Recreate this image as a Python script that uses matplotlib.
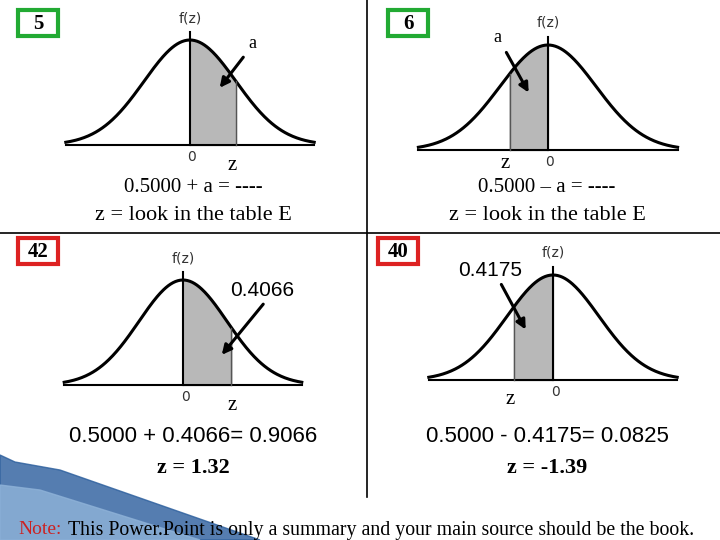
import numpy as np
import matplotlib
matplotlib.use("Agg")
import matplotlib.pyplot as plt
from matplotlib.patches import Rectangle, Polygon

# panel data: (center x, base y, height, sigma px, shade z from, shade z to)
panels = [
    dict(cx=190, base=145, h=105, s=46, z0=0.0, z1=1.0),
    dict(cx=548, base=150, h=105, s=48, z0=-0.8, z1=0.0),
    dict(cx=183, base=385, h=105, s=44, z0=0.0, z1=1.1),
    dict(cx=553, base=380, h=105, s=46, z0=-0.85, z1=0.0),
]
box_labels = ["5", "6", "42", "40"]
box_colors = ["#22aa33", "#22aa33", "#dd2222", "#dd2222"]
box_pos = [(18, 10), (388, 10), (18, 238), (378, 238)]
line1 = ["0.5000 + a = ----", "0.5000 – a = ----", "0.5000 + 0.4066= 0.9066", "0.5000 - 0.4175= 0.0825"]
line2 = ["z = look in the table E", "z = look in the table E", "z = 1.32", "z = -1.39"]
arrow_lbl = ["a", "a", "0.4066", "0.4175"]
arrow_lbl_pos = [(252, 43), (497, 38), (262, 290), (490, 270)]
arrows = [((245, 55), (218, 90)), ((505, 50), (530, 95)), ((265, 302), (220, 357)), ((500, 282), (527, 332))]
zlbl = [(232, 165), (505, 163), (232, 405), (510, 400)]

fig = plt.figure(figsize=(7.2, 5.4), dpi=100)
ax = fig.add_axes([0, 0, 1, 1])
ax.set_xlim(0, 720); ax.set_ylim(540, 0); ax.axis("off")

zz = np.linspace(-2.7, 2.7, 300)
for i, p in enumerate(panels):
    cx, base, h, s = p["cx"], p["base"], p["h"], p["s"]
    x = cx + zz * s; y = base - h * np.exp(-zz**2 / 2)
    zs = np.linspace(p["z0"], p["z1"], 100)
    xs = cx + zs * s; ys = base - h * np.exp(-zs**2 / 2)
    ax.fill_between(xs, ys, base, color="#b8b8b8", zorder=1)
    ax.plot(x, y, color="black", lw=2.2, zorder=2)
    ax.plot([x[0], x[-1]], [base, base], color="black", lw=1.5)
    ax.plot([cx, cx], [base, base - h - 8], color="black", lw=1.5)
    ax.plot([xs[0], xs[0]] if p["z0"] < 0 else [xs[-1], xs[-1]],
            [base, ys[0] if p["z0"] < 0 else ys[-1]], color="#555555", lw=1)
    ax.text(cx, base - h - 22, "f(z)", ha="center", va="center", fontsize=10, color="#333333")
    ax.text(cx + 2, base + 12, "0", ha="center", va="center", fontsize=10, color="#333333")
    ax.text(*zlbl[i], "z", ha="center", va="center", fontsize=15, family="Liberation Serif")
    ax.annotate("", xy=arrows[i][1], xytext=arrows[i][0],
                arrowprops=dict(arrowstyle="-|>", lw=2.2, color="black", mutation_scale=14))
    sans = i >= 2
    ax.text(*arrow_lbl_pos[i], arrow_lbl[i], ha="center", va="center",
            fontsize=15 if sans else 13, family="Liberation Sans" if sans else "Liberation Serif")
    bx, by = box_pos[i]
    ax.add_patch(Rectangle((bx, by), 40, 26, facecolor="white", edgecolor=box_colors[i], lw=3))
    ax.text(bx + 20, by + 14, box_labels[i], ha="center", va="center", fontsize=15,
            family="Liberation Serif", fontweight="bold")
    tx = 193 if i % 2 == 0 else 547
    ty = 187 if i < 2 else 437
    ax.text(tx, ty, line1[i], ha="center", va="center", fontsize=16 if sans else 15,
            family="Liberation Sans" if sans else "Liberation Serif")
    ax.text(tx, ty + 29 if i < 2 else ty + 31, line2[i], ha="center", va="center", fontsize=16,
            family="Liberation Serif", fontweight="bold" if sans else "normal")

ax.plot([367, 367], [0, 497], color="black", lw=1.2)
ax.plot([0, 720], [233, 233], color="black", lw=1.2)
ax.add_patch(Polygon([(0, 455), (0, 540), (260, 540), (60, 470), (15, 462)], color="#2a5d9c", alpha=0.8, zorder=0))
ax.add_patch(Polygon([(0, 485), (0, 540), (200, 540), (40, 490)], color="#8fb3d9", alpha=0.8, zorder=0))
ax.text(18, 530, "Note:", color="#cc2222", fontsize=14, family="Liberation Serif", va="center")
ax.text(68, 530, "This Power.Point is only a summary and your main source should be the book.",
        fontsize=14.3, family="Liberation Serif", va="center")
fig.savefig("out.png", dpi=100)
